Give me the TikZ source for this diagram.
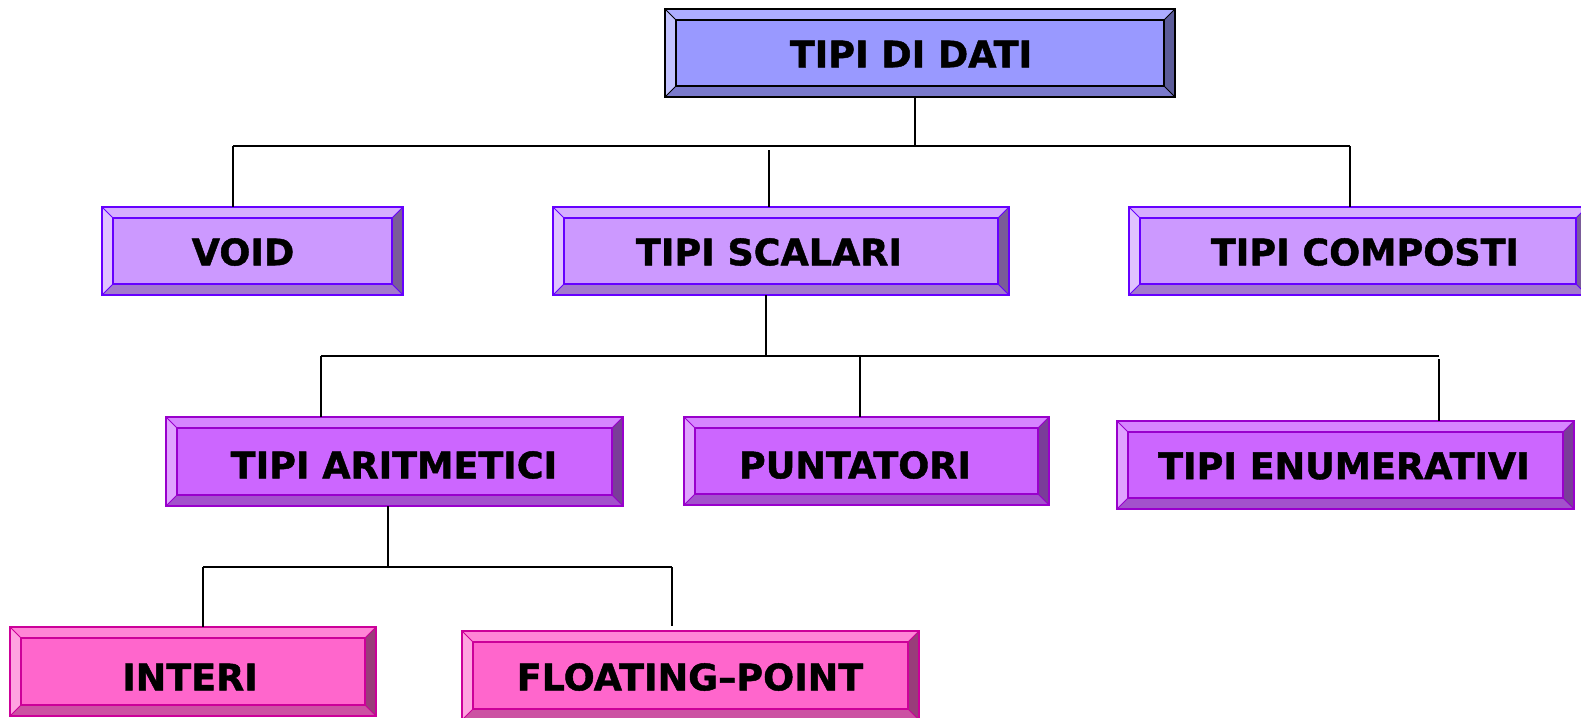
\documentclass[tikz,border=0pt]{standalone}
\usepackage{fontspec}
\setmainfont{DejaVu Sans}[BoldFeatures={FakeBold=1.2}]
\usetikzlibrary{calc}

% palettes: face, top/left/right/bottom bevels, outline
\definecolor{Aface}{HTML}{9999FF}
\definecolor{Atop}{HTML}{ADADFF}
\definecolor{Aleft}{HTML}{C2C2FF}
\definecolor{Aright}{HTML}{5C5C99}
\definecolor{Abot}{HTML}{7A7ACC}
\definecolor{Aline}{HTML}{000000}

\definecolor{Bface}{HTML}{CC99FF}
\definecolor{Btop}{HTML}{D6ADFF}
\definecolor{Bleft}{HTML}{E0C2FF}
\definecolor{Bright}{HTML}{7A5C99}
\definecolor{Bbot}{HTML}{A37ACC}
\definecolor{Bline}{HTML}{6600FF}

\definecolor{Cface}{HTML}{CC66FF}
\definecolor{Ctop}{HTML}{D685FF}
\definecolor{Cleft}{HTML}{E0A3FF}
\definecolor{Cright}{HTML}{7A3D99}
\definecolor{Cbot}{HTML}{A352CC}
\definecolor{Cline}{HTML}{9900CC}

\definecolor{Dface}{HTML}{FF66CC}
\definecolor{Dtop}{HTML}{FF85D6}
\definecolor{Dleft}{HTML}{FFA3E0}
\definecolor{Dright}{HTML}{993D7A}
\definecolor{Dbot}{HTML}{CC52A3}
\definecolor{Dline}{HTML}{CC0099}

\tikzset{
  boxbase/.style={inner sep=0pt, outer sep=0pt, draw=none, rectangle},
  boxtext/.style={inner sep=0pt, outer sep=0pt, font=\fontsize{36.5}{40}\selectfont\bfseries},
  wire/.style={draw=black, line width=1.5pt},
  edge line/.style={line width=1.4pt, line join=miter},
  corner line/.style={line width=1pt},
}

% \bevelbox{name}{center}{width}{height}{palette}
\newcommand\bevelbox[5]{%
  \node[boxbase, minimum width=#3pt, minimum height=#4pt] (#1) at (#2) {};
  \coordinate (#1-nw) at ($(#1.north west)+(11,11)$);
  \coordinate (#1-ne) at ($(#1.north east)+(-11,11)$);
  \coordinate (#1-sw) at ($(#1.south west)+(11,-11)$);
  \coordinate (#1-se) at ($(#1.south east)+(-11,-11)$);
  \fill[#5top] (#1.north west) -- (#1.north east) -- (#1-ne) -- (#1-nw) -- cycle;
  \fill[#5left] (#1.north west) -- (#1-nw) -- (#1-sw) -- (#1.south west) -- cycle;
  \fill[#5right] (#1.north east) -- (#1.south east) -- (#1-se) -- (#1-ne) -- cycle;
  \fill[#5bot] (#1.south west) -- (#1-sw) -- (#1-se) -- (#1.south east) -- cycle;
  \fill[#5face] (#1-nw) rectangle (#1-se);
  \draw[#5line, corner line] (#1.north west) -- (#1-nw)
    (#1.north east) -- (#1-ne) (#1.south west) -- (#1-sw) (#1.south east) -- (#1-se);
  \draw[#5line, edge line] (#1.north west) rectangle (#1.south east);
  \draw[#5line, edge line] (#1-nw) rectangle (#1-se);
}

\begin{document}
\begin{tikzpicture}[x=1pt, y=-1pt]
  \useasboundingbox (0,0) rectangle (1581,717);
  \clip (0,0) rectangle (1581,717);

  % boxes
  \bevelbox{dati}{920,53}{510}{88}{A}
  \bevelbox{void}{252.5,251}{301}{88}{B}
  \bevelbox{scalari}{781,251}{456}{88}{B}
  \bevelbox{composti}{1358,251}{458}{88}{B}
  \bevelbox{aritm}{394.5,461.5}{457}{89}{C}
  \bevelbox{punt}{866.5,461}{365}{88}{C}
  \bevelbox{enum}{1345.5,465}{457}{88}{C}
  \bevelbox{interi}{193,671.5}{366}{89}{D}
  \bevelbox{floating}{690.5,675.5}{457}{89}{D}

  % labels
  \node[boxtext] (tdati) at (911,54) {TIPI DI DATI};
  \node[boxtext] (tvoid) at (243,252) {VOID};
  \node[boxtext] (tscalari) at (769,252) {TIPI SCALARI};
  \node[boxtext] (tcomposti) at (1365,252) {TIPI COMPOSTI};
  \node[boxtext] (taritm) at (394,465) {TIPI ARITMETICI};
  \node[boxtext] (tpunt) at (855,465) {PUNTATORI};
  \node[boxtext] (tenum) at (1344,466) {TIPI ENUMERATIVI};
  \node[boxtext] (tinteri) at (190,677) {INTERI};
  \node[boxtext] (tfloating) at (690,677) {FLOATING–POINT};

  % first level bus
  \coordinate (b1) at (915,146);
  \coordinate (b1l) at (233,146);
  \coordinate (b1r) at (1350,146);
  \coordinate (b1m) at (769,150);
  \draw[wire] (b1 |- dati.south) -- (b1);
  \draw[wire] (b1l) -- (b1r);
  \draw[wire] (b1l) -- (b1l |- void.north);
  \draw[wire] (b1m) -- (b1m |- scalari.north);
  \draw[wire] (b1r) -- (b1r |- composti.north);

  % second level bus
  \coordinate (b2) at (766,356);
  \coordinate (b2l) at (321,356);
  \coordinate (b2r) at (1439,356);
  \coordinate (b2m) at (860,356);
  \coordinate (b2e) at (1439,359);
  \draw[wire] (b2 |- scalari.south) -- (b2);
  \draw[wire] (b2l) -- (b2r);
  \draw[wire] (b2l) -- (b2l |- aritm.north);
  \draw[wire] (b2m) -- (b2m |- punt.north);
  \draw[wire] (b2e) -- (b2e |- enum.north);

  % third level bus
  \coordinate (b3) at (388,567);
  \coordinate (b3l) at (203,567);
  \coordinate (b3r) at (672,567);
  \coordinate (fpend) at (672,626);
  \draw[wire] (b3 |- aritm.south) -- (b3);
  \draw[wire] (b3l) -- (b3r);
  \draw[wire] (b3l) -- (b3l |- interi.north);
  \draw[wire] (b3r) -- (fpend);
\end{tikzpicture}
\end{document}
